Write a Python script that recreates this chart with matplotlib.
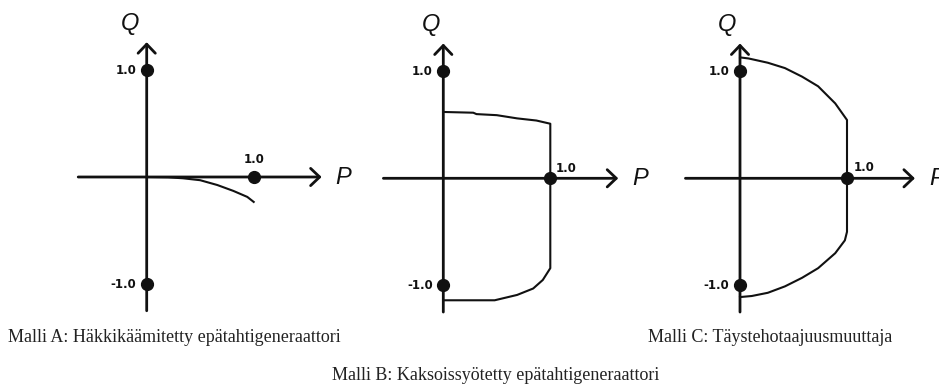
import matplotlib
matplotlib.use("Agg")
import matplotlib.pyplot as plt

W, H = 939, 387
S = 107.0          # pixels per unit of P and Q
INK = "#111111"
PX = 72.0 / 100    # one pixel in points at dpi 100

# Malli A: squirrel-cage generator, only a small absorption curve
a_p = [0.0, 0.2, 0.34, 0.5, 0.66, 0.81, 0.94, 1.0]
a_q = [0.0, -0.003, -0.012, -0.03, -0.075, -0.13, -0.186, -0.233]

# Malli B: doubly fed generator
b_p = [0.0, 0.28, 0.31, 0.5, 0.69, 0.87, 1.0, 1.0, 0.93, 0.84, 0.69, 0.48, 0.0]
b_q = [0.62, 0.613, 0.60, 0.59, 0.56, 0.54, 0.51, -0.84, -0.95, -1.03, -1.09, -1.14, -1.14]

# Malli C: full converter
c_p = [0.0, 0.08, 0.26, 0.42, 0.58, 0.73, 0.89, 1.0,
       1.0, 0.98, 0.89, 0.73, 0.58, 0.42, 0.26, 0.11, 0.0]
c_q = [1.13, 1.12, 1.08, 1.03, 0.95, 0.86, 0.70, 0.545,
       -0.50, -0.58, -0.70, -0.84, -0.93, -1.01, -1.07, -1.10, -1.11]

dot_p = [0.0, 0.0, 1.0]
dot_q = [1.0, -1.0, 0.0]

captions = [
    "Malli A: Häkkikäämitetty epätahtigeneraattori",
    "Malli B: Kaksoissyötetty epätahtigeneraattori",
    "Malli C: Täystehotaajuusmuuttaja",
]

# origin in pixels, pixel box of the axes, left end of P axis,
# P=1.0 label offset (px) and alignment, Q letter position
panels = [
    dict(origin=(146.7, 177.0), box=(60, 0, 365, 330), left=-0.64,
         p_off=(0, 17.5), p_ha="center", q_pos=(-0.156, 1.43)),
    dict(origin=(443.3, 178.3), box=(365, 0, 660, 330), left=-0.56,
         p_off=(5, 9.5), p_ha="left", q_pos=(-0.115, 1.44)),
    dict(origin=(740.0, 178.3), box=(660, 0, 939, 330), left=-0.51,
         p_off=(6.5, 10.5), p_ha="left", q_pos=(-0.125, 1.44)),
]
curves = [(a_p, a_q), (b_p, b_q), (c_p, c_q)]


def make_panel(fig, ox, oy, box):
    x0, y0, x1, y1 = box
    ax = fig.add_axes([x0 / W, 1 - y1 / H, (x1 - x0) / W, (y1 - y0) / H])
    ax.set_xlim((x0 - ox) / S, (x1 - ox) / S)
    ax.set_ylim((oy - y1) / S, (oy - y0) / S)
    ax.axis("off")
    return ax


fig = plt.figure(figsize=(W / 100, H / 100), dpi=100)
fig.patch.set_facecolor("white")

arrow = dict(arrowstyle="->,head_length=0.65,head_width=0.62", lw=2.0,
             color=INK, shrinkA=0, shrinkB=0, mutation_scale=10)
tick_font = dict(fontsize=8.5, fontweight="bold", family="DejaVu Sans", color=INK)
axis_font = dict(fontsize=17, style="italic", family="Liberation Sans", color=INK)

for cfg, (cp, cq) in zip(panels, curves):
    ox, oy = cfg["origin"]
    ax = make_panel(fig, ox, oy, cfg["box"])

    ax.annotate("", xy=(1.635, 0), xytext=(cfg["left"], 0), arrowprops=arrow)
    ax.annotate("", xy=(0, 1.26), xytext=(0, -1.25), arrowprops=arrow)

    ax.plot(cp, cq, color=INK, lw=1.5, solid_joinstyle="round", zorder=3)
    ax.plot(dot_p, dot_q, "o", ms=8.5, color=INK, zorder=5)

    ax.annotate("1.0", xy=(0, 1), xytext=(-10.5 * PX, 0), textcoords="offset points",
                ha="right", va="center", **tick_font)
    ax.annotate("-1.0", xy=(0, -1), xytext=(-10.5 * PX, 0), textcoords="offset points",
                ha="right", va="center", **tick_font)
    dx, dy = cfg["p_off"]
    ax.annotate("1.0", xy=(1, 0), xytext=(dx * PX, dy * PX), textcoords="offset points",
                ha=cfg["p_ha"], va="center", **tick_font)

    ax.text(1.84, 0, "P", ha="center", va="center", clip_on=False, **axis_font)
    ax.text(cfg["q_pos"][0], cfg["q_pos"][1], "Q", ha="center", va="center",
            clip_on=False, **axis_font)

cap_font = dict(fontsize=13, family="Liberation Serif", color="#222222")
fig.text(8 / W, 1 - 338 / H, captions[0], ha="left", va="center", **cap_font)
fig.text(648 / W, 1 - 338 / H, captions[2], ha="left", va="center", **cap_font)
fig.text(332 / W, 1 - 375 / H, captions[1], ha="left", va="center", **cap_font)

fig.savefig("out.png", dpi=100, facecolor="white")
